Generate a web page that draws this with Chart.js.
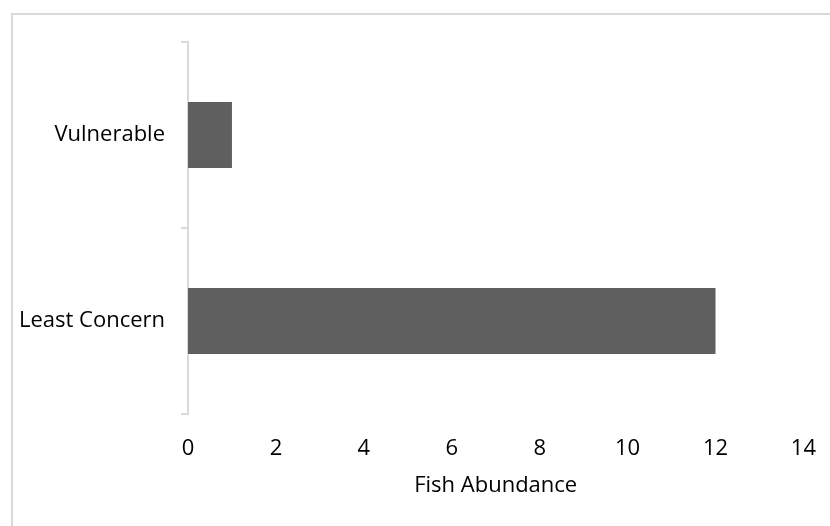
<!DOCTYPE html>
<html>
<head>
<meta charset="utf-8">
<script src="https://cdn.jsdelivr.net/npm/chart.js@4"></script>
<style>
    html, body { margin: 0; padding: 0; background: #fff; overflow: hidden; }
    #wrap { position: relative; width: 830px; height: 526px; }
    #frame {
        position: absolute; left: 11px; top: 13px; width: 900px; height: 600px;
        border-left: 2px solid #d9d9d9; border-top: 2px solid #d9d9d9;
    }
    canvas { position: absolute; left: 0; top: 0; }
</style>
</head>
<body>
<div id="wrap">
    <div id="frame"></div>
    <canvas id="barChart" width="830" height="526"></canvas>
</div>
<script>
// ===================================
// DATA
// ===================================

const categories = ['Vulnerable', 'Least Concern'];
const abundance = [1, 12];
const xTicks = [0, 2, 4, 6, 8, 10, 12, 14];

const axisGrey = '#d9d9d9';
const textFont = { family: "'Open Sans', sans-serif", size: 22 };

// ===================================
// CHART
// ===================================

function createBarChart() {
    const ctx = document.getElementById('barChart');
    if (!ctx) return;

    new Chart(ctx, {
        type: 'bar',
        data: {
            labels: categories,
            datasets: [{
                label: 'Fish Abundance',
                data: abundance,
                backgroundColor: '#5f5f5f',
                borderWidth: 0,
                barPercentage: 1,
                categoryPercentage: 0.355
            }]
        },
        options: {
            indexAxis: 'y',
            responsive: false,
            animation: false,
            layout: {
                padding: { top: 42, right: 22, bottom: 0, left: 0 }
            },
            plugins: {
                legend: { display: false },
                tooltip: { enabled: false }
            },
            scales: {
                x: {
                    min: xTicks[0],
                    max: xTicks[xTicks.length - 1],
                    afterFit: function(scale) { scale.height = 112; },
                    afterBuildTicks: function(scale) {
                        scale.ticks = xTicks.map(v => ({ value: v }));
                    },
                    grid: { display: false },
                    border: { display: false },
                    ticks: {
                        padding: 14,
                        color: '#000',
                        font: textFont,
                        maxRotation: 0
                    },
                    title: {
                        display: true,
                        text: 'Fish Abundance',
                        color: '#000',
                        font: textFont,
                        padding: { top: 4, bottom: 27 }
                    }
                },
                y: {
                    afterFit: function(scale) { scale.width = 188; },
                    grid: {
                        display: true,
                        offset: true,
                        drawOnChartArea: false,
                        drawTicks: true,
                        tickLength: 7,
                        color: axisGrey,
                        lineWidth: 2
                    },
                    border: { display: true, color: axisGrey, width: 2 },
                    ticks: {
                        padding: 16,
                        color: '#000',
                        font: textFont
                    }
                }
            }
        }
    });
}

createBarChart();
</script>
</body>
</html>
